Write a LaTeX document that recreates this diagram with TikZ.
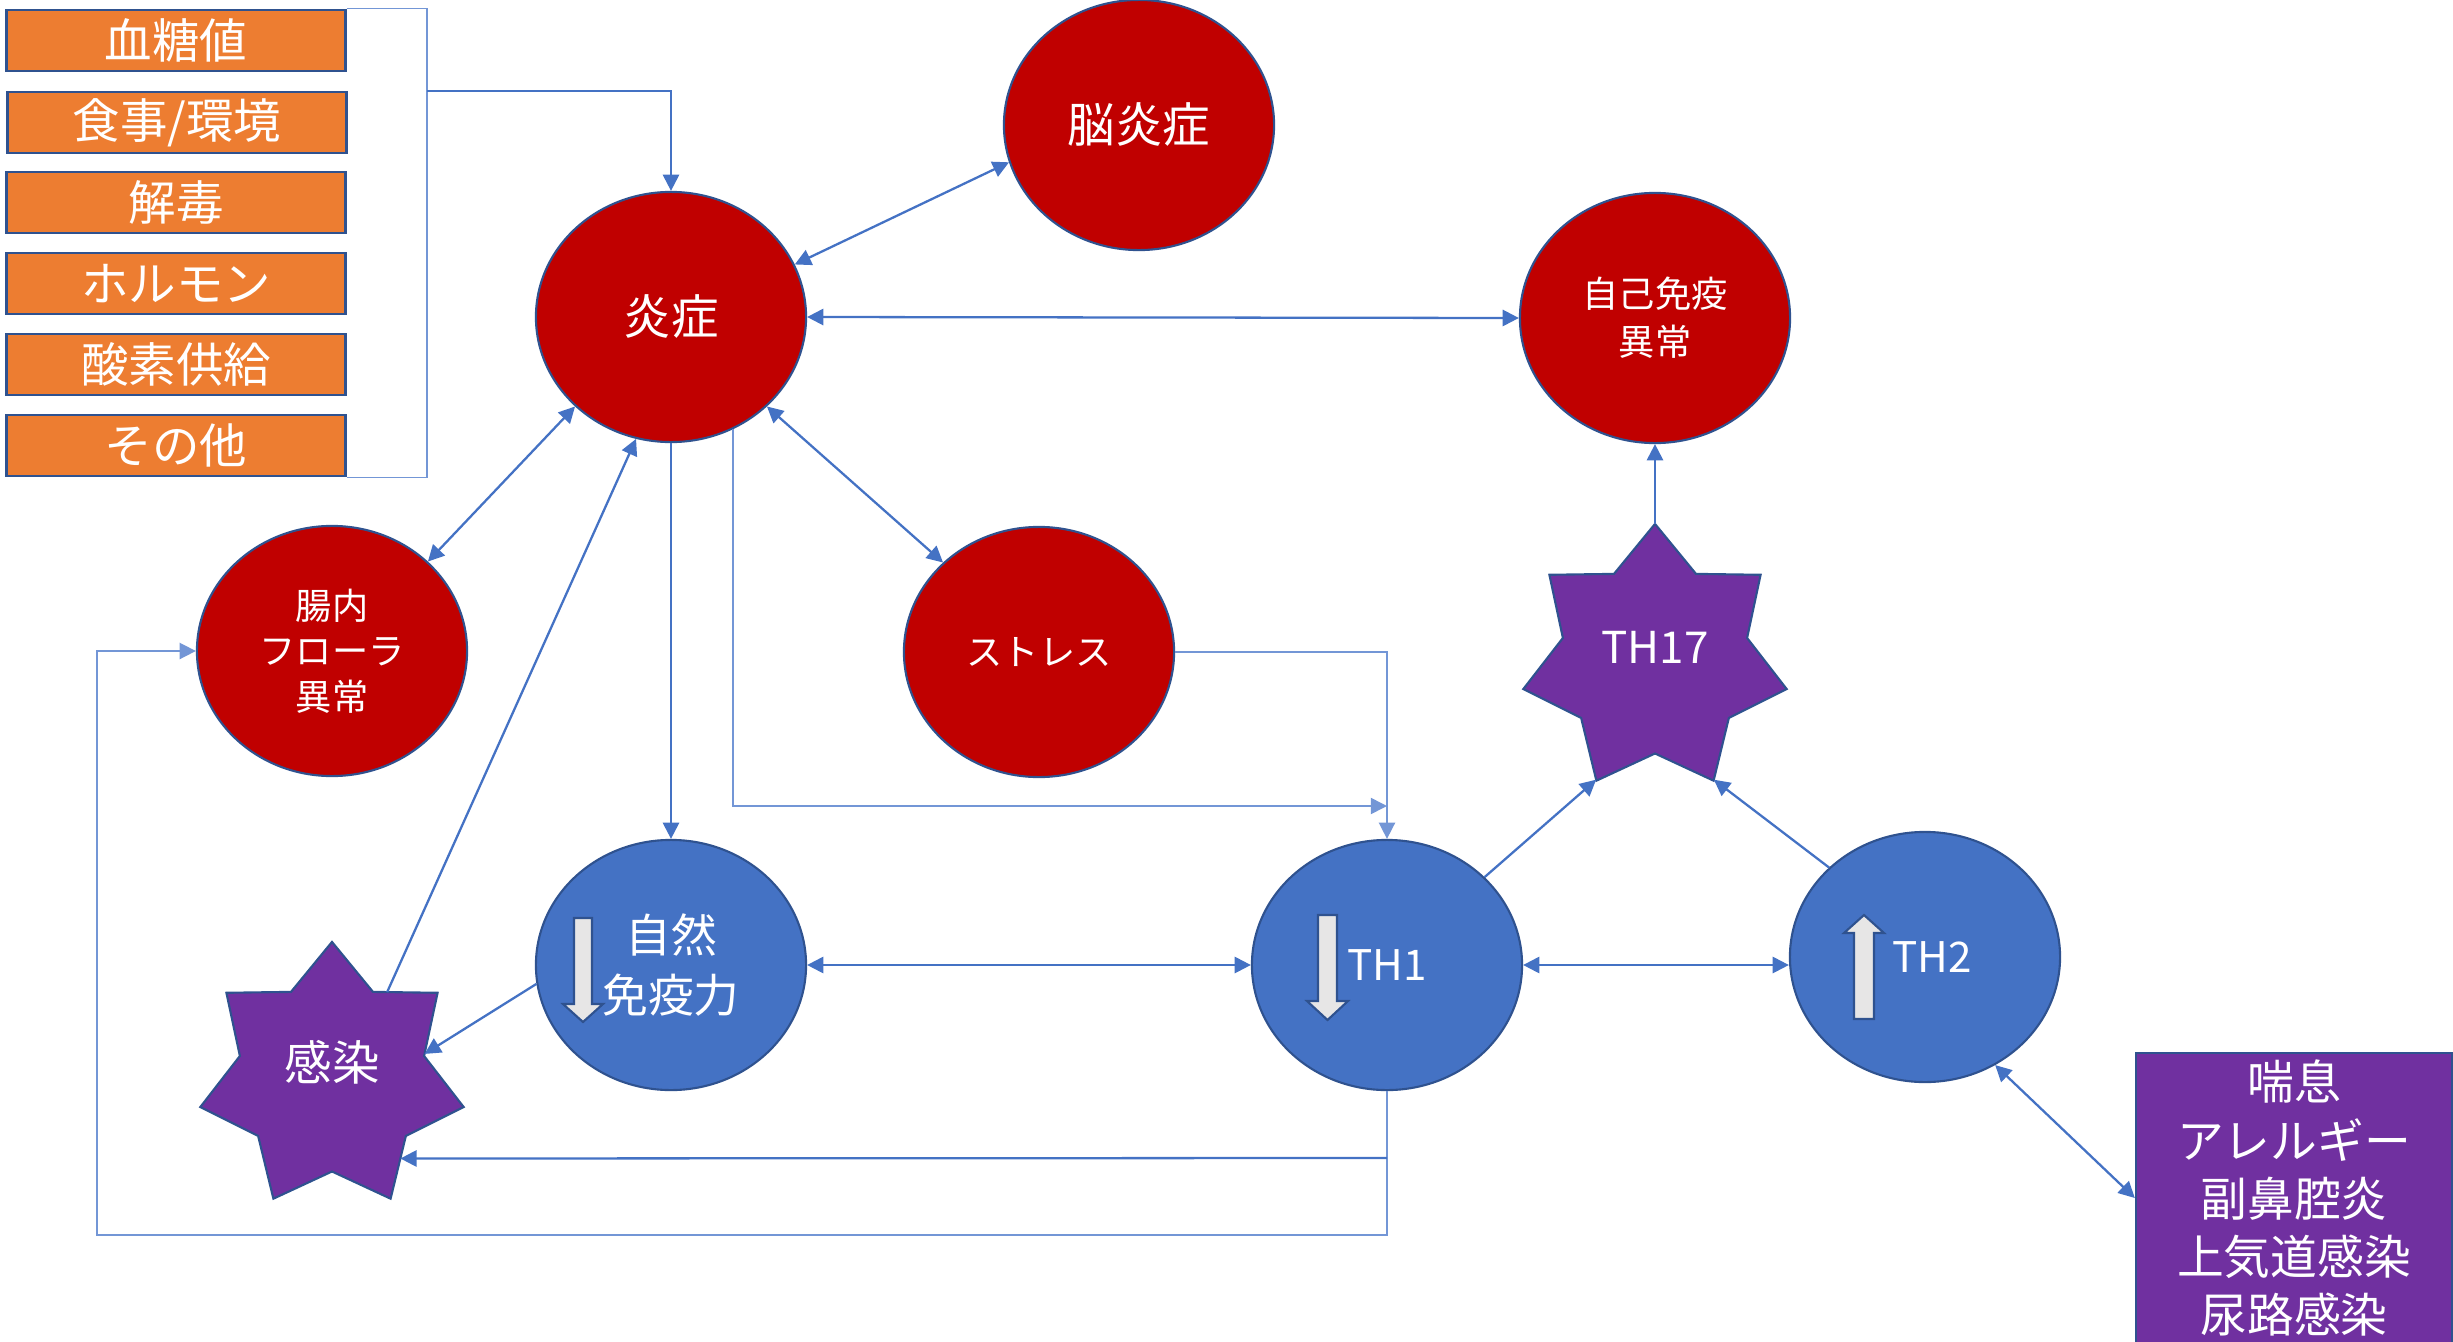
\documentclass[tikz,border=0pt]{standalone}
\usepackage{fontspec}
\setmainfont{Noto Sans CJK JP}
\usetikzlibrary{arrows.meta,shapes.geometric,calc}
\definecolor{orangef}{HTML}{ED7D31}
\definecolor{redf}{HTML}{C00000}
\definecolor{bluef}{HTML}{4472C4}
\definecolor{purplef}{HTML}{7030A0}
\definecolor{edgeblue}{HTML}{2F528F}
\definecolor{linkblue}{HTML}{4472C4}
\definecolor{thinblue}{HTML}{7396D6}
\definecolor{arrowgray}{HTML}{E7E6E6}
\newcommand\bigjp{\fontsize{13.5pt}{17pt}\selectfont}
\newcommand\midjp{\fontsize{13pt}{17pt}\selectfont}
\newcommand\smalljp{\fontsize{10.3pt}{13.3pt}\selectfont}
\begin{document}
\begin{tikzpicture}[x=0.01cm,y=-0.01cm,
  factorbox/.style={draw=edgeblue, line width=0.8pt, fill=orangef, text=white,
    minimum width=3.38cm, minimum height=0.61cm, inner sep=0pt, font=\bigjp},
  redell/.style={ellipse, draw=edgeblue, line width=0.6pt, fill=redf, text=white,
    minimum width=2.7cm, minimum height=2.5cm, inner sep=0pt, align=center},
  blueell/.style={ellipse, draw=edgeblue, line width=0.6pt, fill=bluef, text=white,
    minimum width=2.7cm, minimum height=2.5cm, inner sep=0pt, align=center},
  pstar/.style={star, star points=7, star point ratio=1.43, draw=edgeblue, line width=0.6pt,
    fill=purplef, minimum size=2.7cm, inner sep=0pt, outer sep=0pt},
  startext/.style={text=white, font=\bigjp, yshift=4.3pt},
  link/.style={draw=linkblue, line width=0.65pt},
  thinlink/.style={draw=thinblue, line width=0.45pt},
  tip/.style={-{Triangle[length=4.6pt,width=4.6pt]}},
  tips/.style={{Triangle[length=4.6pt,width=4.6pt]}-{Triangle[length=4.6pt,width=4.6pt]}},
  levelarrow/.style={draw=edgeblue, line width=0.6pt, fill=arrowgray},
]
\useasboundingbox (0,0) rectangle (2453,1342);

% factor boxes
\node[factorbox] (f1) at (176,40.5) {血糖値};
\node[factorbox] (f2) at (177,122.5) {食事/環境};
\node[factorbox] (f3) at (176,202.5) {解毒};
\node[factorbox] (f4) at (176,283.5) {ホルモン};
\node[factorbox] (f5) at (176,364.5) {酸素供給};
\node[factorbox] (f6) at (176,445.5) {その他};

% red ellipses
\node[redell, font=\bigjp] (brain) at (1139,125) {脳炎症};
\node[redell, font=\bigjp] (infl) at (671,317) {炎症};
\node[redell, font=\fontsize{10.3pt}{13.7pt}\selectfont] (auto) at (1655,318) {自己免疫\\異常};
\node[redell, font=\fontsize{10.3pt}{12.9pt}\selectfont] (gut) at (332,651) {腸内\\フローラ\\異常};
\node[redell, font=\smalljp] (stress) at (1039,652) {ストレス};

% blue ellipses
\node[blueell, font=\midjp] (innate) at (671,965) {自然\\免疫力};
\node[blueell, font=\fontsize{12pt}{14pt}\selectfont] (th1) at (1387,965) {TH1};
\node[blueell, font=\fontsize{12pt}{14pt}\selectfont] (th2) at (1925,957) {\hspace*{4pt}TH2};

% stars
\node[pstar, label={[startext]center:感染}] (infect) at (332,1077) {};
\node[pstar, label={[startext, font=\fontsize{12.5pt}{14pt}\selectfont, yshift=-0.9pt]center:TH17}] (th17) at (1655,659) {};

% disease box
\node[draw=edgeblue, line width=0.6pt, fill=purplef, text=white, minimum width=3.16cm,
  minimum height=2.9cm, inner sep=0pt, align=center,
  font=\fontsize{13.3pt}{16.5pt}\selectfont] (dis) at (2294,1198)
  {喘息\\アレルギー\\副鼻腔炎\\上気道感染\\尿路感染};

% level arrows
\draw[levelarrow] (574,918) -- (592,918) -- (592,1004) -- (603,1004) -- (583,1022)
  -- (563,1004) -- (574,1004) -- cycle;
\draw[levelarrow] (1318,915) -- (1337,915) -- (1337,1001) -- (1348,1001) -- (1327.5,1020)
  -- (1307,1001) -- (1318,1001) -- cycle;
\draw[levelarrow] (1854,1019) -- (1874,1019) -- (1874,933) -- (1884,933) -- (1864,915)
  -- (1844,933) -- (1854,933) -- cycle;

% connectors
\coordinate (brk) at (427,91);
\draw[thinlink] (f1.north east) -| (brk) |- (f6.south east);
\draw[link,tip] (brk) -| (infl.north);
\draw[link,tips] (infl.23.8) -- (brain.196.2);
\draw[link,tips] (infl.east) -- (auto.west);
\draw[link,tips] (infl.223.8) -- (gut.43.5);
\draw[link,tip] (infect.57) -- (infl.254);
\draw[link,tip] (infl.south) -- (innate.north);
\coordinate (j1) at (1387,806);
\draw[thinlink,tip] (infl.299) |- (j1);
\draw[link,tips] (infl.317.7) -- (stress.137.8);
\draw[thinlink,tip] (stress.east) -| (th1.north);
\draw[link,tip] (innate.188.9) -- (infect.14.6);
\draw[link,tips] (innate.east) -- (th1.west);
\draw[link,tips] (th1.east) -- (th1.east -| th2.west);
\draw[link,tip] (th1.42.8) -- (th17.244);
\draw[link,tip] (th2.137.2) -- (th17.296);
\draw[link,tip] (th17.north) -- (auto.south);
\coordinate (c1) at (97,1235);
\draw[thinlink,tip] (th1.south) |- (c1) |- (gut.west);
\coordinate (c2) at (1387,1158);
\draw[link,tip] (c2) -- (infect.310);
\draw[link,tips] (th2.303.5) -- (dis.west);
\end{tikzpicture}
\end{document}
